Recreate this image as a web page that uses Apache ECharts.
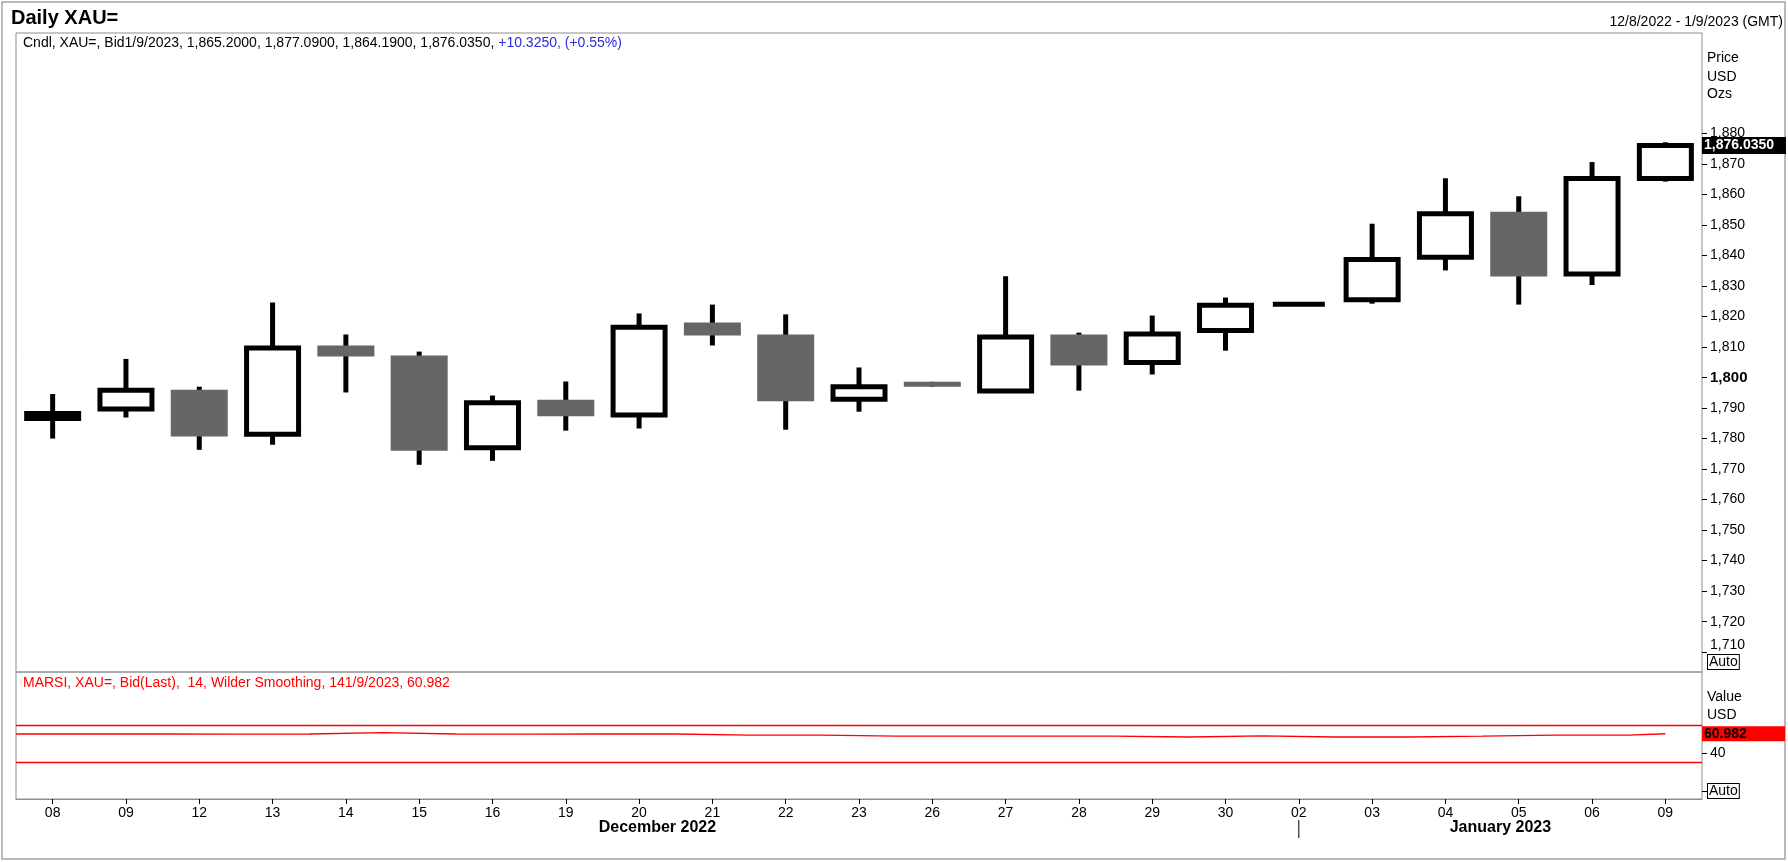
<!DOCTYPE html>
<html>
<head>
<meta charset="utf-8">
<script src="https://cdn.jsdelivr.net/npm/echarts@6/dist/echarts.min.js"></script>
<style>
  html, body { margin: 0; padding: 0; background: #fff; }
  #chart { width: 1788px; height: 862px; }
</style>
</head>
<body>
<div id="chart"></div>
<script>
// daily XAU= bid, 8 Dec 2022 .. 9 Jan 2023
const dates = ['08', '09', '12', '13', '14', '15', '16', '19', '20', '21', '22', '23',
  '26', '27', '28', '29', '30', '02', '03', '04', '05', '06', '09'];
const opens = [1786.6, 1789.7, 1796.0, 1781.4, 1810.5, 1807.2, 1777.0, 1792.7, 1787.7, 1818.0, 1814.1, 1792.9,
  1798.6, 1795.6, 1814.1, 1804.9, 1815.4, 1824.0, 1825.5, 1839.4, 1854.3, 1833.9, 1865.2];
const closes = [1788.2, 1795.8, 1780.7, 1809.7, 1806.9, 1776.0, 1791.7, 1787.3, 1816.5, 1813.8, 1792.2, 1797.0,
  1797.0, 1813.3, 1803.9, 1814.3, 1823.7, 1824.0, 1838.7, 1853.7, 1833.1, 1865.2, 1876.035];
const lows = [1780.0, 1786.9, 1776.3, 1778.0, 1795.1, 1771.4, 1772.7, 1782.6, 1783.3, 1810.5, 1782.9, 1788.8,
  1797.0, 1795.2, 1795.7, 1801.0, 1808.8, 1823.8, 1824.2, 1835.1, 1823.9, 1830.3, 1864.19];
const highs = [1794.6, 1806.1, 1797.0, 1824.6, 1814.1, 1808.5, 1794.1, 1798.7, 1821.0, 1823.9, 1820.7, 1803.3,
  1798.6, 1833.2, 1814.7, 1820.3, 1826.2, 1824.2, 1850.4, 1865.3, 1859.4, 1870.6, 1877.09];
// RSI 14, Wilder smoothing
const rsiValues = [60.7, 60.7, 60.6, 60.7, 62.1, 60.7, 60.6, 60.7, 60.7, 59.6, 59.6, 58.5,
  58.5, 58.5, 58.5, 57.5, 58.8, 57.5, 57.5, 58.5, 59.6, 59.6, 60.982];
const priceTicks = [1710, 1720, 1730, 1740, 1750, 1760, 1770, 1780, 1790, 1800,
  1810, 1820, 1830, 1840, 1850, 1860, 1870, 1880];
const rsiTicks = [0, 40];
const rsiLevels = [70, 30];
const months = ['December 2022', 'January 2023'];
const monthStart = [0, 17];

const FONT = '"Liberation Sans", Arial, sans-serif';
const UP_W = 52, BORDER = 5, WICK = 5, DOWN_W = 57;
const GRAY = '#666666';
const FRAME = '#8e8e8e';
const CLEAR = 'rgba(0,0,0,0)';

function fmtPrice(v, d) {
  return v.toFixed(d).replace(/\B(?=(\d{3})+(?!\d))/, ',');
}

const candleData = dates.map((d, i) => [i, opens[i], closes[i], lows[i], highs[i]]);
const last = dates.length - 1;
const rsiData = rsiValues.map((v, i) => [i - 0.5, v]);
rsiData.push([last, rsiValues[last]]);

const chart = echarts.init(document.getElementById('chart'), null, {renderer: 'canvas'});

const option = {
  animation: false,
  textStyle: {fontFamily: FONT},
  grid: [
    {left: 16, right: 86, top: 33, height: 639, show: true, borderColor: FRAME, borderWidth: 1},
    {left: 16, right: 86, top: 672, height: 127, show: true, borderColor: FRAME, borderWidth: 1}
  ],
  xAxis: [
    {type: 'category', gridIndex: 0, data: dates, boundaryGap: true,
      axisLine: {show: false}, axisTick: {show: false}, axisLabel: {show: false}, splitLine: {show: false}},
    {type: 'category', gridIndex: 1, data: dates, boundaryGap: true, position: 'bottom',
      axisLine: {show: true, onZero: false, lineStyle: {color: FRAME}},
      axisTick: {show: true, alignWithLabel: true, length: 5, lineStyle: {color: '#000'}},
      axisLabel: {color: '#000', fontSize: 14, margin: 7, interval: 0, fontFamily: FONT},
      splitLine: {show: false}},
    {type: 'value', gridIndex: 1, min: -0.5, max: last + 0.5, show: false}
  ],
  yAxis: [
    {type: 'value', gridIndex: 0, position: 'right', min: 1703.5, max: 1912.9, scale: true,
      axisLine: {show: false, onZero: false},
      axisTick: {show: true, length: 5, customValues: priceTicks, lineStyle: {color: '#000'}},
      axisLabel: {
        customValues: priceTicks, margin: 8, color: '#000', fontSize: 14, fontFamily: FONT,
        formatter: v => v === 1800 ? '{b|' + fmtPrice(v, 0) + '}' :
          v === 1710 ? '{lo|' + fmtPrice(v, 0) + '}' : fmtPrice(v, 0),
        rich: {
          b: {fontWeight: 'bold', fontSize: 15, color: '#000', fontFamily: FONT},
          lo: {fontSize: 14, color: '#000', padding: [0, 0, 14, 0], fontFamily: FONT}
        }
      },
      splitLine: {show: false}},
    {type: 'value', gridIndex: 1, position: 'right', min: -8.8, max: 127,
      axisLine: {show: false, onZero: false},
      axisTick: {show: true, length: 5, customValues: rsiTicks, lineStyle: {color: '#000'}},
      axisLabel: {customValues: rsiTicks, margin: 8, color: '#000', fontSize: 14, fontFamily: FONT,
        formatter: v => v === 0 ? '' : String(v)},
      splitLine: {show: false}}
  ],
  series: [
    {
      type: 'custom',
      name: 'Cndl',
      xAxisIndex: 0,
      yAxisIndex: 0,
      data: candleData,
      encode: {x: 0, y: [1, 2, 3, 4]},
      renderItem(params, api) {
        const i = api.value(0);
        const o = api.value(1), c = api.value(2), l = api.value(3), h = api.value(4);
        const pO = api.coord([i, o]);
        const pC = api.coord([i, c]);
        const pL = api.coord([i, l]);
        const pH = api.coord([i, h]);
        const x = pO[0];
        const top = Math.min(pO[1], pC[1]);
        const hgt = Math.abs(pO[1] - pC[1]);
        const wick = {
          type: 'line',
          shape: {x1: x, y1: pH[1], x2: x, y2: pL[1]},
          style: {stroke: '#000', lineWidth: WICK}
        };
        let body;
        if (c >= o) {
          body = {
            type: 'rect',
            shape: {x: x - UP_W / 2, y: top, width: UP_W, height: hgt},
            style: {fill: '#fff', stroke: '#000', lineWidth: BORDER, lineJoin: 'miter'}
          };
        } else {
          body = {
            type: 'rect',
            shape: {x: x - DOWN_W / 2, y: top, width: DOWN_W, height: Math.max(hgt, 1)},
            style: {fill: GRAY}
          };
        }
        return {type: 'group', children: [wick, body]};
      },
      markLine: {
        silent: true,
        symbol: 'none',
        animation: false,
        data: [{
          yAxis: closes[last],
          lineStyle: {color: CLEAR, width: 1},
          label: {
            show: true, position: 'end', distance: 0, opacity: 1,
            formatter: () => fmtPrice(closes[last], 4),
            backgroundColor: '#000', color: '#fff', fontWeight: 'bold', fontSize: 14,
            fontFamily: FONT, padding: [2, 2, 1, 2], width: 80, align: 'left'
          }
        }]
      }
    },
    {
      type: 'line',
      name: 'MARSI',
      xAxisIndex: 2,
      yAxisIndex: 1,
      data: rsiData,
      step: 'end',
      symbol: 'none',
      lineStyle: {color: '#ff0000', width: 1.3},
      markLine: {
        silent: true,
        symbol: 'none',
        animation: false,
        lineStyle: {color: '#ff0000', width: 1.3, type: 'solid'},
        label: {show: false},
        data: rsiLevels.map(v => ({yAxis: v})).concat([{
          yAxis: rsiValues[last],
          lineStyle: {color: CLEAR, width: 1},
          label: {
            show: true, position: 'end', distance: 0, opacity: 1,
            formatter: () => rsiValues[last].toFixed(3),
            backgroundColor: '#ff0000', color: '#000', fontWeight: 'bold', fontSize: 14,
            fontFamily: FONT, padding: [1, 2, 0, 2], width: 79, align: 'left'
          }
        }])
      }
    }
  ]
};

chart.setOption(option);

// header texts, side captions and month labels
function txt(x, y, text, extra) {
  return {type: 'text', x: x, y: y, silent: true,
    style: Object.assign({text: text, fill: '#000', font: '14px ' + FONT, verticalAlign: 'middle', align: 'left'}, extra || {})};
}
function autoBox(x, y) {
  return {type: 'text', x: x, y: y, silent: true, z: 10,
    style: {text: 'Auto', fill: '#000', font: '14px ' + FONT, verticalAlign: 'middle',
      borderColor: '#000', borderWidth: 1, padding: [0, 1, 0, 1], backgroundColor: '#fff'}};
}

const leftX = chart.convertToPixel({xAxisIndex: 2}, -0.5);
const rightX = chart.convertToPixel({xAxisIndex: 2}, last + 0.5);
const bounds = monthStart.map(i => chart.convertToPixel({xAxisIndex: 2}, i)).slice(1);
const edges = [leftX].concat(bounds, [rightX]);

const graphics = [
  {type: 'rect', silent: true, shape: {x: 2, y: 2, width: 1783, height: 857},
    style: {fill: null, stroke: '#a3a3a3', lineWidth: 1.5}},
  txt(11, 18, 'Daily XAU=', {font: 'bold 20px ' + FONT}),
  txt(1783, 22, '12/8/2022 - 1/9/2023 (GMT)', {align: 'right'}),
  {type: 'text', x: 23, y: 43, silent: true, style: {
    text: '{k|Cndl, XAU=, Bid1/9/2023, 1,865.2000, 1,877.0900, 1,864.1900, 1,876.0350, }{u|+10.3250, (+0.55%)}',
    verticalAlign: 'middle',
    rich: {
      k: {fill: '#000', font: '14px ' + FONT},
      u: {fill: '#2b2be0', font: '14px ' + FONT}
    }}},
  txt(1707, 58, 'Price'),
  txt(1707, 77, 'USD'),
  txt(1707, 94, 'Ozs'),
  autoBox(1708, 662),
  txt(23, 683, 'MARSI, XAU=, Bid(Last),  14, Wilder Smoothing, 141/9/2023, 60.982', {fill: '#ff0000'}),
  txt(1707, 697, 'Value'),
  txt(1707, 715, 'USD'),
  autoBox(1708, 791)
];

bounds.forEach(bx => {
  graphics.push({type: 'line', silent: true, shape: {x1: bx, y1: 820, x2: bx, y2: 838},
    style: {stroke: '#000', lineWidth: 1}});
});
months.forEach((m, k) => {
  graphics.push(txt((edges[k] + edges[k + 1]) / 2, 828, m,
    {font: 'bold 16px ' + FONT, align: 'center'}));
});

chart.setOption({graphic: graphics});
</script>
</body>
</html>
